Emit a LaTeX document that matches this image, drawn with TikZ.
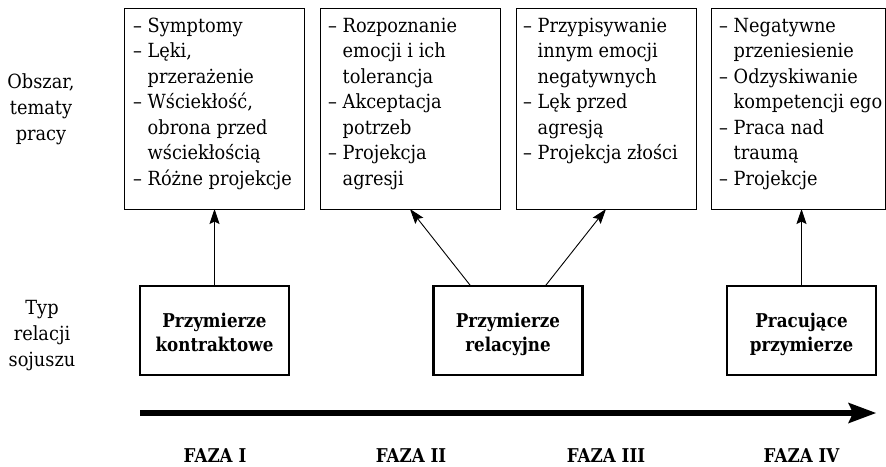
\documentclass[tikz,border=0pt]{standalone}
\usepackage{fontspec}
\setmainfont{DejaVu Serif}[FakeStretch=0.91]
\newfontfamily\bfam{DejaVu Serif}[FakeStretch=0.88]
\usetikzlibrary{arrows.meta,calc}
\newcommand\dd{–\ }
\newcommand\ii{\hphantom{–}\ }
\newcommand\fl{\rule{0pt}{15pt}}
\newcommand\bl{\rule{0pt}{22pt}}
\begin{document}
\begin{tikzpicture}[x=1pt,y=1pt,
  topbox/.style={draw, line width=1pt, anchor=north west, minimum height=201pt, inner sep=0pt, outer sep=0pt},
  toptext/.style={anchor=north west, inner sep=0pt, align=left, font=\fontsize{19.5}{25.5}\selectfont},
  relbox/.style={draw, line width=2.5pt, minimum width=149pt, minimum height=89pt, align=center, inner sep=0pt, outer sep=0pt, font=\bfam\bfseries\fontsize{19}{24}\selectfont},
  sidelabel/.style={align=center, inner sep=0pt, font=\fontsize{19.5}{26}\selectfont},
  phase/.style={inner sep=0pt, font=\bfam\bfseries\fontsize{19}{22}\selectfont},
  conn/.style={line width=0.9pt, -{Stealth[length=15pt,width=10pt,inset=2.5pt]}},
  timeline/.style={line width=5.5pt, -{Stealth[length=28pt,width=21pt,inset=5pt,line width=0pt]}}
]
\useasboundingbox (0,0) rectangle (886,-466);

% top boxes
\node[topbox, minimum width=180pt] (t1) at (124,-8) {};
\node[topbox, minimum width=180pt] (t2) at (320,-8) {};
\node[topbox, minimum width=180pt] (t3) at (516,-8) {};
\node[topbox, minimum width=174pt] (t4) at (711,-8) {};

\node[toptext] (x1) at (133,-17) {\fl\dd Symptomy\\ \dd Lęki,\\ \ii przerażenie\\ \dd Wściekłość,\\ \ii obrona przed\\ \ii wściekłością\\ \dd Różne projekcje};
\node[toptext] (x2) at (328,-17) {\fl\dd Rozpoznanie\\ \ii emocji i ich\\ \ii tolerancja\\ \dd Akceptacja\\ \ii potrzeb\\ \dd Projekcja\\ \ii agresji};
\node[toptext] (x3) at (523,-17) {\fl\dd Przypisywanie\\ \ii innym emocji\\ \ii negatywnych\\ \dd Lęk przed\\ \ii agresją\\ \dd Projekcja złości};
\node[toptext] (x4) at (719,-17) {\fl\dd Negatywne\\ \ii przeniesienie\\ \dd Odzyskiwanie\\ \ii kompetencji ego\\ \dd Praca nad\\ \ii traumą\\ \dd Projekcje};

% relation boxes
\node[relbox] (rA) at (214.5,-330.5) {\bl Przymierze\\ kontraktowe\vphantom{y}};
\node[relbox] (rB) at (508,-330.5) {\bl Przymierze\\ relacyjne};
\node[relbox] (rC) at (801.5,-330.5) {\bl Pracujące\\ przymierze};

% side labels
\node[sidelabel] (s1) at (41,-109) {Obszar,\\ tematy\\ pracy};
\node[sidelabel] (s2) at (42,-336) {Typ\\ relacji\\ sojuszu};

% connectors
\draw[conn] (rA.north) -- (rA.north |- t1.south);
\draw[conn] ($(rB.north west)!0.25!(rB.north east)$) -- (t2.south);
\draw[conn] ($(rB.north west)!0.75!(rB.north east)$) -- (t3.south);
\draw[conn] (rC.north) -- (rC.north |- t4.south);

% timeline
\coordinate (tl0) at (140,-413);
\coordinate (tl1) at (876,-413);
\draw[timeline] (tl0) -- (tl1);

% phases
\node[phase] (f1) at (215,-455.5) {FAZA I};
\node[phase] (f2) at (411,-455.5) {FAZA II};
\node[phase] (f3) at (606,-455.5) {FAZA III};
\node[phase] (f4) at (801.5,-455.5) {FAZA IV};
\end{tikzpicture}
\end{document}
